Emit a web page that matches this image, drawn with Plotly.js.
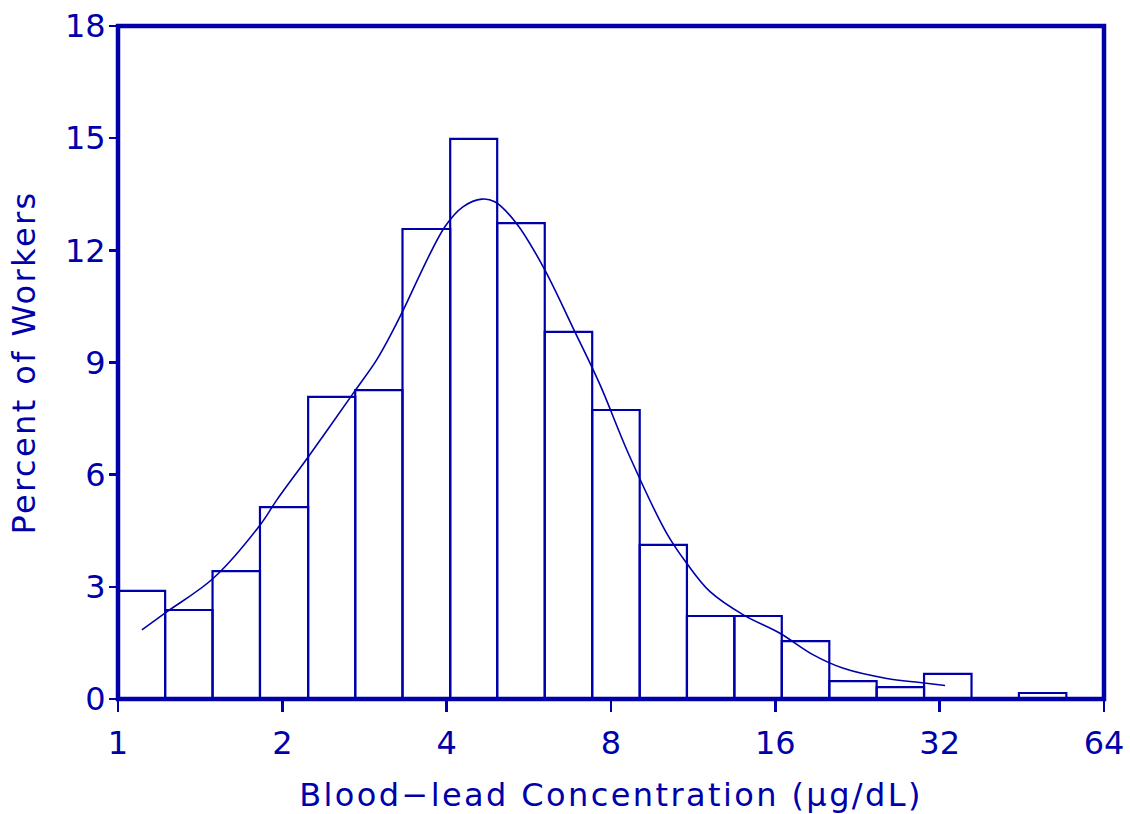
<!DOCTYPE html>
<html>
<head>
<meta charset="utf-8">
<script src="https://cdn.plot.ly/plotly-3.0.1.min.js"></script>
<style>
html, body { margin: 0; padding: 0; background: #ffffff; }
#chart { width: 1130px; height: 814px; }
.xtitle, .ytitle { letter-spacing: 2.4px; }
</style>
</head>
<body>
<div id="chart"></div>
<script>
// Histogram bins (blood-lead concentration, ug/dL, log-spaced bin edges)
const binEdges = [1.00, 1.22, 1.49, 1.82, 2.23, 2.72, 3.32, 4.06, 4.95, 6.05, 7.39,
                  9.03, 11.02, 13.46, 16.44, 20.09, 24.53, 29.96, 36.60, 44.70, 54.60];
// Percent of workers in each bin
const percents = [2.89, 2.38, 3.42, 5.13, 8.08, 8.26, 12.57, 14.98, 12.73, 9.82,
                  7.73, 4.12, 2.22, 2.22, 1.55, 0.48, 0.32, 0.67, 0, 0.16];
// Smoothed density curve
const curveConc = [1.106, 1.228, 1.495, 1.820, 1.953, 2.232, 2.698, 2.977, 3.193, 3.32,
                   3.97, 4.29, 4.64, 4.90, 5.37, 6.01, 6.87, 7.64, 8.60,
                   10.12, 11.01, 12.15, 13.98, 16.31, 18.78, 21.32, 25.60, 29.45, 32.74];
const curvePct = [1.85, 2.33, 3.23, 4.65, 5.32, 6.48, 8.18, 9.07, 9.87, 10.36,
                  12.63, 13.17, 13.37, 13.30, 12.72, 11.56, 9.82, 8.40, 6.58,
                  4.43, 3.63, 2.87, 2.25, 1.76, 1.18, 0.82, 0.55, 0.44, 0.36];
const xTicks = [1, 2, 4, 8, 16, 32, 64];
const xTickLabels = ['1', '2', '4', '8', '16', '32', '64'];
const yTicks = [0, 3, 6, 9, 12, 15, 18];

const C = '#0000aa';
const L = Math.log10;

const bx = [], bw = [], by = [];
for (let i = 0; i < percents.length; i++) {
  if (percents[i] <= 0) continue;
  const a = L(binEdges[i]), b = L(binEdges[i + 1]);
  bx.push((a + b) / 2); bw.push(b - a); by.push(percents[i]);
}

const bars = {
  type: 'bar', x: bx, y: by, width: bw,
  marker: { color: 'rgba(255,255,255,0)', line: { color: C, width: 2.2 } },
  hoverinfo: 'skip', showlegend: false
};
const curve = {
  type: 'scatter', mode: 'lines',
  x: curveConc.map(L), y: curvePct,
  line: { color: C, width: 1.6, shape: 'spline', smoothing: 1 },
  showlegend: false, hoverinfo: 'skip'
};

const fontFam = '"DejaVu Sans", "Liberation Sans", Arial, sans-serif';
const layout = {
  width: 1130, height: 814,
  margin: { l: 118, r: 26, t: 26, b: 115 },
  paper_bgcolor: '#ffffff', plot_bgcolor: '#ffffff',
  bargap: 0,
  font: { family: fontFam, color: C, size: 30 },
  shapes: [{
    type: 'rect', xref: 'paper', yref: 'paper', x0: 0, x1: 1, y0: 0, y1: 1,
    line: { color: C, width: 4.5 }, fillcolor: 'rgba(0,0,0,0)', layer: 'above'
  }],
  xaxis: {
    range: [0, L(64)], tickmode: 'array',
    tickvals: xTicks.map(L), ticktext: xTickLabels,
    showgrid: false, zeroline: false, showline: false,
    ticks: 'outside', ticklen: 12, tickwidth: 2.5, tickcolor: C,
    ticklabelstandoff: 4,
    tickfont: { family: fontFam, size: 32, color: C },
    title: { text: 'Blood\u2212lead Concentration (\u03bcg/dL)', font: { family: fontFam, size: 32, color: C }, standoff: 24 }
  },
  yaxis: {
    range: [0, 18], tickmode: 'array', tickvals: yTicks,
    showgrid: false, zeroline: false, showline: false,
    ticks: 'outside', ticklen: 8, tickwidth: 2.5, tickcolor: C,
    ticklabelstandoff: -3,
    tickfont: { family: fontFam, size: 32, color: C },
    title: { text: 'Percent of Workers', font: { family: fontFam, size: 32, color: C }, standoff: 19 }
  }
};

Plotly.newPlot('chart', [bars, curve], layout, { displayModeBar: false, staticPlot: true });
</script>
</body>
</html>
